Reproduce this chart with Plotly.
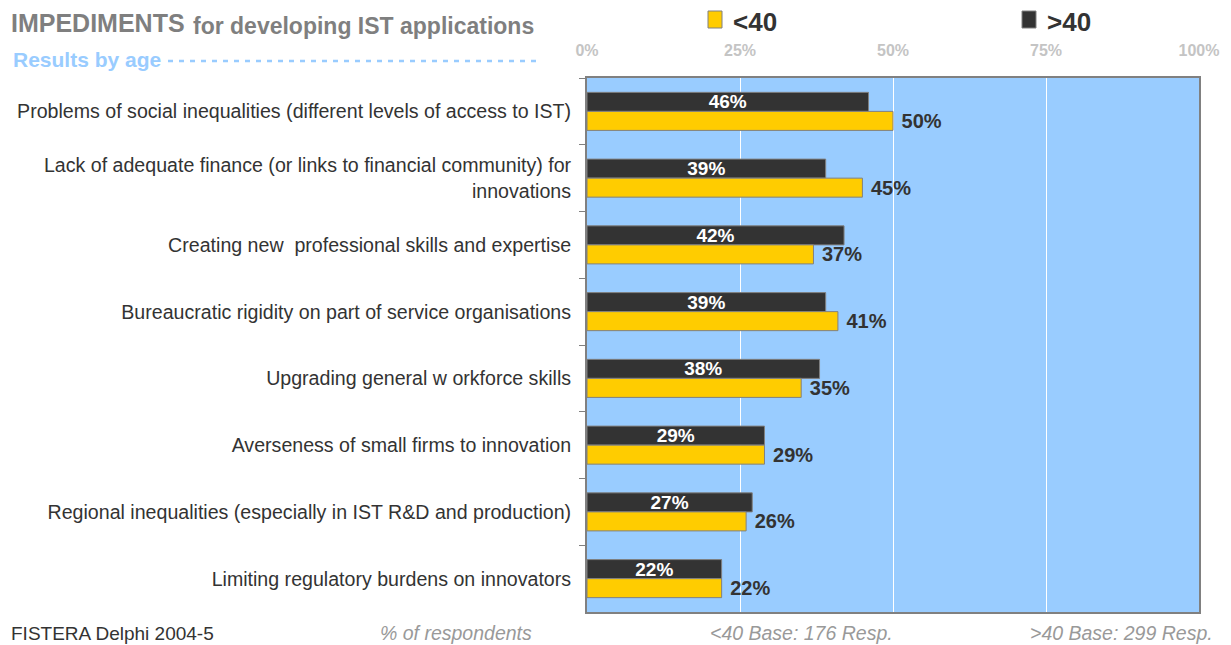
import plotly.graph_objects as go

categories = [
    "Problems of social inequalities (different levels of access to IST)",
    "Lack of adequate finance (or links to financial community) for<br>innovations",
    "Creating new  professional skills and expertise",
    "Bureaucratic rigidity on part of service organisations",
    "Upgrading general w orkforce skills",
    "Averseness of small firms to innovation",
    "Regional inequalities (especially in IST R&D and production)",
    "Limiting regulatory burdens on innovators",
]
over40 = [46, 39, 42, 39, 38, 29, 27, 22]
under40 = [50, 45, 37, 41, 35, 29, 26, 22]
x_ticks = [0, 25, 50, 75, 100]
x_ticklabels = ["0%", "25%", "50%", "75%", "100%"]

# page offset (body margin of the html page)
OFF = 8
W, H = 1231 - OFF, 645 - OFF
L, R, T, B = 587 - OFF, 32, 78 - OFF, 33
PW, PH = W - L - R, H - T - B


def px(x):
    return (x - OFF - L) / PW


def py(y):
    return (H - B - (y - OFF)) / PH


FONT = "Liberation Sans, Arial, sans-serif"
YELLOW = "#ffcc00"
DARK = "#333333"
BLUE = "#99ccff"
GRAY = "#808080"

fig = go.Figure()
fig.add_trace(go.Bar(
    y=categories, x=over40, orientation="h", name=">40",
    marker=dict(color=DARK, line=dict(color=GRAY, width=1)),
    text=[f"{v}%" for v in over40], textposition="inside",
    insidetextanchor="middle", constraintext="none",
    textfont=dict(family=FONT, size=19, color="white", weight="bold"),
    showlegend=False,
))
fig.add_trace(go.Bar(
    y=categories, x=under40, orientation="h", name="<40",
    marker=dict(color=YELLOW, line=dict(color=GRAY, width=1)),
    text=[f"\u00a0{v}%" for v in under40], textposition="outside",
    constraintext="none",
    textfont=dict(family=FONT, size=20, color=DARK, weight="bold"),
    cliponaxis=False,
    showlegend=False,
))

fig.update_layout(
    width=W, height=H,
    margin=dict(l=L, r=R, t=T, b=B, autoexpand=False),
    paper_bgcolor="white",
    plot_bgcolor=BLUE,
    barmode="group",
    bargap=0.43,
    bargroupgap=0,
    font=dict(family=FONT, color=DARK),
    xaxis=dict(
        range=[0, 100], side="top", tickvals=x_ticks, ticktext=x_ticklabels,
        showgrid=True, gridcolor="white", gridwidth=1, zeroline=False,
        tickfont=dict(family=FONT, size=16, color="#c4c4c4", weight="bold"),
        ticks="", ticklabelstandoff=14, automargin=False,
        showline=True, linecolor=GRAY, linewidth=2, mirror=True,
        fixedrange=True,
    ),
    yaxis=dict(
        categoryorder="array", categoryarray=categories, autorange="reversed",
        tickson="boundaries", ticks="outside", ticklen=6, tickcolor=GRAY,
        tickfont=dict(family=FONT, size=19.6, color=DARK),
        ticklabelstandoff=10, automargin=False,
        showline=True, linecolor=GRAY, linewidth=2, mirror=True,
        showgrid=False, fixedrange=True,
    ),
)

ann = []
shapes = []
ann.append(dict(text="<b>IMPEDIMENTS</b>", x=px(9), y=py(23), xanchor="left", yanchor="middle",
                font=dict(family=FONT, size=25, color="#7f7f7f")))
ann.append(dict(text="<b>for developing IST applications</b>", x=px(191), y=py(26), xanchor="left",
                yanchor="middle", font=dict(family=FONT, size=23, color="#7f7f7f")))
ann.append(dict(text="<b>Results by age</b>", x=px(11), y=py(59), xanchor="left", yanchor="middle",
                font=dict(family=FONT, size=21, color=BLUE)))
shapes.append(dict(type="line", x0=px(168), x1=px(536), y0=py(61), y1=py(61),
                   line=dict(color=BLUE, width=2.5, dash="5px,6px")))
# legend
shapes.append(dict(type="rect", x0=px(708), x1=px(722), y0=py(11), y1=py(28),
                   fillcolor=YELLOW, line=dict(color=GRAY, width=1)))
ann.append(dict(text="<b><40</b>", x=px(731), y=py(22), xanchor="left", yanchor="middle",
                font=dict(family=FONT, size=26, color=DARK)))
shapes.append(dict(type="rect", x0=px(1022), x1=px(1036), y0=py(11), y1=py(28),
                   fillcolor=DARK, line=dict(color=GRAY, width=1)))
ann.append(dict(text="<b>>40</b>", x=px(1045), y=py(22), xanchor="left", yanchor="middle",
                font=dict(family=FONT, size=26, color=DARK)))
# footer
ann.append(dict(text="FISTERA Delphi 2004-5", x=px(9), y=py(633), xanchor="left", yanchor="middle",
                font=dict(family=FONT, size=19, color=DARK)))
ann.append(dict(text="<i>% of respondents</i>", x=px(378), y=py(633), xanchor="left", yanchor="middle",
                font=dict(family=FONT, size=19.5, color="#999999")))
ann.append(dict(text="<i><40 Base: 176 Resp.</i>", x=px(708), y=py(633), xanchor="left", yanchor="middle",
                font=dict(family=FONT, size=19.5, color="#999999")))
ann.append(dict(text="<i>>40 Base: 299 Resp.</i>", x=px(1028), y=py(633), xanchor="left", yanchor="middle",
                font=dict(family=FONT, size=19.5, color="#999999")))

for a in ann:
    a.update(xref="paper", yref="paper", showarrow=False)
fig.update_layout(annotations=ann)
for s in shapes:
    s.update(xref="paper", yref="paper")
fig.update_layout(shapes=shapes)

fig.write_html("out.html")
